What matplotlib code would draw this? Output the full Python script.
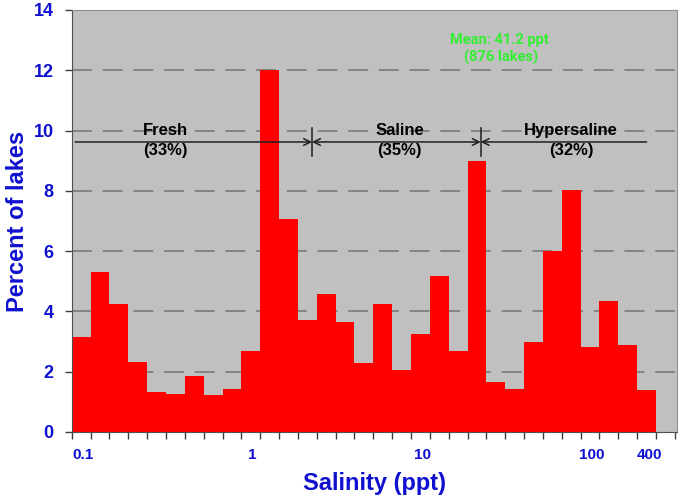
import matplotlib
matplotlib.use("Agg")
import matplotlib.pyplot as plt
import numpy as np

# ---- data ----
percent = [3.15, 5.31, 4.24, 2.32, 1.32, 1.27, 1.86, 1.24, 1.44, 2.70,
           12.0, 7.06, 3.73, 4.57, 3.64, 2.28, 4.25, 2.06, 3.24, 5.19,
           2.69, 8.99, 1.66, 1.44, 3.00, 6.00, 8.02, 2.81, 4.36, 2.90, 1.40]
xtick_labels = ["0.1", "1", "10", "100", "400"]
yticks = [0, 2, 4, 6, 8, 10, 12, 14]
classes = ["Fresh", "Saline", "Hypersaline"]
class_pct = ["(33%)", "(35%)", "(32%)"]
mean_text = "Mean: 41.2 ppt"
n_text = "(876 lakes)"

# ---- layout ----
xtick_pos = [0.6, 9.6, 18.6, 27.6, 30.65]
class_bounds = [0.18, 12.75, 21.7, 30.5]
class_text_x = [4.96, 17.4, 26.5]
blue = "#1010d0"
plt.rcParams['font.family'] = ["Liberation Sans", "DejaVu Sans"]

fig = plt.figure(figsize=(6.85, 4.97), dpi=100)
ax = fig.add_axes([0.1047, 0.1308, 0.988 - 0.1047, 0.98 - 0.1308])
ax.set_facecolor("#c0c0c0")

for y in yticks[1:-1]:
    ax.axhline(y, color="#7f7f7f", lw=1.3, ls=(0, (11, 6)), zorder=1)

ax.bar(np.arange(len(percent)), percent, width=1.0, align="edge",
       color="#ff0000", edgecolor="none", zorder=2)

ax.set_xlim(0, 32.1)
ax.set_ylim(0, 14)
ax.set_yticks(yticks)
ax.set_yticklabels([str(v) for v in yticks], color=blue, fontsize=13, fontweight="bold")
ax.set_xticks(np.arange(0, 33))
ax.set_xticklabels([])
ax.tick_params(axis="x", length=5, width=1, color="#404040", direction="out")
ax.tick_params(axis="y", length=5, width=1, color="#404040", direction="out", pad=8)
for pos, lab in zip(xtick_pos, xtick_labels):
    ax.text(pos, -0.75, lab, ha="center", va="center", color=blue,
            fontsize=11, fontweight="bold", transform=ax.transData)

for s in ["top", "right"]:
    ax.spines[s].set_color("#909090")
for s in ["left", "bottom"]:
    ax.spines[s].set_color("#505050")

ax.set_ylabel("Percent of lakes", color=blue, fontsize=17, fontweight="bold", labelpad=3)
ax.set_xlabel("Salinity (ppt)", color=blue, fontsize=17, fontweight="bold", labelpad=20)

# class annotations
ya = 9.62
ap = dict(lw=1.1, color="#202020", shrinkA=0, shrinkB=0, mutation_scale=12)
ax.annotate("", xy=(class_bounds[1], ya), xytext=(class_bounds[0], ya),
            arrowprops=dict(arrowstyle="->", **ap), zorder=4)
ax.annotate("", xy=(class_bounds[2], ya), xytext=(class_bounds[1], ya),
            arrowprops=dict(arrowstyle="<->", **ap), zorder=4)
ax.annotate("", xy=(class_bounds[3], ya), xytext=(class_bounds[2], ya),
            arrowprops=dict(arrowstyle="<-", **ap), zorder=4)
for xb in class_bounds[1:3]:
    ax.plot([xb, xb], [9.15, 10.1], color="#202020", lw=1.1, zorder=4)
for xt, name, pct in zip(class_text_x, classes, class_pct):
    ax.text(xt, 10.0, name, ha="center", va="center", fontsize=12,
            fontweight="bold", zorder=5)
    ax.text(xt, 9.35, pct, ha="center", va="center", fontsize=12,
            fontweight="bold", zorder=5)

mean_font = dict(family=["Roboto", "Liberation Sans"], fontsize=10.5,
                 fontweight="bold", color="#33ee33")
ax.text(22.7, 13.0, mean_text, ha="center", va="center", **mean_font)
ax.text(22.8, 12.42, n_text, ha="center", va="center", **mean_font)

fig.savefig("out.png", dpi=100)
